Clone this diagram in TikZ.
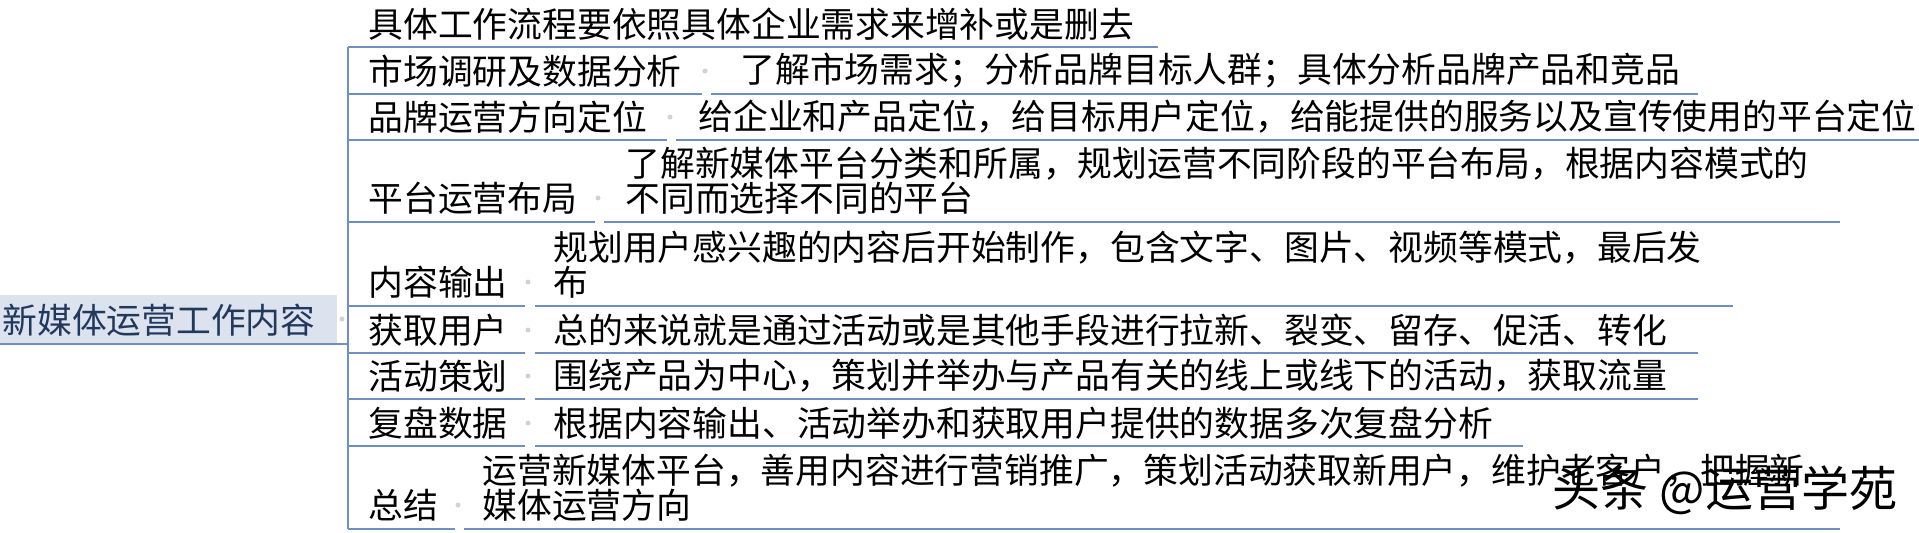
\documentclass[tikz,border=0pt]{standalone}
\usepackage{fontspec}
\newfontfamily\cjk{Noto Sans CJK SC}
\definecolor{lineblue}{HTML}{6F8FC3}
\definecolor{rootfill}{HTML}{DCE3EE}
\definecolor{roottext}{HTML}{22395E}
\definecolor{dotgray}{HTML}{D2D2D2}
\tikzset{
  txt/.style={font=\cjk\fontsize{17.4}{17.5}\selectfont, inner sep=0pt, anchor=west, text=black},
  twoline/.style={align=left},
  uline/.style={draw=lineblue, line width=0.8pt},
  knob/.style={circle, fill=dotgray, inner sep=0pt, minimum size=2.5pt},
}
\begin{document}
\begin{tikzpicture}[x=0.5pt,y=-0.5pt]
\useasboundingbox (0,0) rectangle (1919,532);
% root
\fill[rootfill] (0,295) rectangle (337,344);
\node[txt, text=roottext] (root) at (2,320) {新媒体运营工作内容};
\node[knob] (rootk) at (342,319) {};
\coordinate (rootL) at (0,344);
\coordinate (rootR) at (348,344);
\draw[uline] (rootL) -- (rootR);
% spine
\coordinate (spineTop) at (348,47);
\coordinate (spineBot) at (348,529);
\draw[uline] (spineTop) -- (spineBot);
% row 1
\node[txt] (l1) at (368,24) {具体工作流程要依照具体企业需求来增补或是删去};
\draw[uline] (348,47) -- (1158,47);
% row 2
\node[txt] (l2) at (368,71) {市场调研及数据分析};
\node[knob] (k2) at (705,71) {};
\node[txt] (d2) at (740,71) {了解市场需求；分析品牌目标人群；具体分析品牌产品和竞品};
\draw[uline] (348,94) -- (702,94);
\draw[uline] (711,94) -- (1698,94);
% row 3
\node[txt] (l3) at (368,117) {品牌运营方向定位};
\node[knob] (k3) at (670,117) {};
\node[txt] (d3) at (698,117) {给企业和产品定位，给目标用户定位，给能提供的服务以及宣传使用的平台定位};
\draw[uline] (348,140) -- (667,140);
\draw[uline] (676,140) -- (1919,140);
% row 4
\node[txt] (l4) at (368,198) {平台运营布局};
\node[knob] (k4) at (598,198) {};
\node[txt, twoline] (d4) at (625,180.5) {了解新媒体平台分类和所属，规划运营不同阶段的平台布局，根据内容模式的\\不同而选择不同的平台};
\draw[uline] (348,222) -- (595,222);
\draw[uline] (604,222) -- (1840,222);
% row 5
\node[txt] (l5) at (368,282) {内容输出};
\node[knob] (k5) at (528,282) {};
\node[txt, twoline] (d5) at (553,264.5) {规划用户感兴趣的内容后开始制作，包含文字、图片、视频等模式，最后发\\布};
\draw[uline] (348,306) -- (525,306);
\draw[uline] (535,306) -- (1733,306);
% row 6
\node[txt] (l6) at (368,330) {获取用户};
\node[knob] (k6) at (528,330) {};
\node[txt] (d6) at (553,330) {总的来说就是通过活动或是其他手段进行拉新、裂变、留存、促活、转化};
\draw[uline] (348,353) -- (525,353);
\draw[uline] (535,353) -- (1698,353);
% row 7
\node[txt] (l7) at (368,376) {活动策划};
\node[knob] (k7) at (528,376) {};
\node[txt] (d7) at (553,376) {围绕产品为中心，策划并举办与产品有关的线上或线下的活动，获取流量};
\draw[uline] (348,399) -- (525,399);
\draw[uline] (535,399) -- (1698,399);
% row 8
\node[txt] (l8) at (368,423) {复盘数据};
\node[knob] (k8) at (528,423) {};
\node[txt] (d8) at (553,423) {根据内容输出、活动举办和获取用户提供的数据多次复盘分析};
\draw[uline] (348,446) -- (525,446);
\draw[uline] (535,446) -- (1523,446);
% row 9
\node[txt] (l9) at (368,505) {总结};
\node[knob] (k9) at (458,505) {};
\node[txt, twoline] (d9) at (482,487.5) {运营新媒体平台，善用内容进行营销推广，策划活动获取新用户，维护老客户，把握新\\媒体运营方向};
\draw[uline] (348,529) -- (455,529);
\draw[uline] (464,529) -- (1840,529);
% watermark
\node[font=\cjk\fontsize{24}{24}\selectfont, text=black, inner sep=0pt] (wm) at (1725,490) {头条 @运营学苑};
\end{tikzpicture}
\end{document}
